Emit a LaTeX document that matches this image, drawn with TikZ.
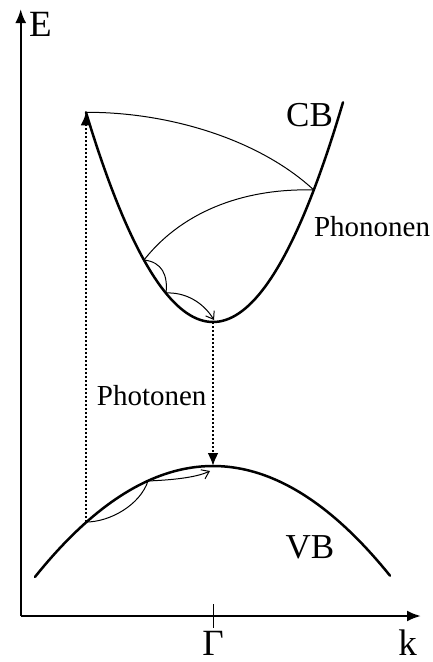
\documentclass[tikz,border=0pt]{standalone}
\usepackage{fontspec}
\setmainfont{Liberation Serif}
\usetikzlibrary{arrows.meta}
\begin{document}
\begin{tikzpicture}[x=1pt,y=-1pt,
  axis/.style={line width=2.4pt,-{Latex[length=14pt,width=11pt]}},
  band/.style={line width=2.5pt,line cap=round},
  phonon/.style={line width=1pt},
  phononarrow/.style={line width=1pt,-{Straight Barb[length=7pt,width=10pt]}},
  photon/.style={line width=2.2pt,dash pattern=on 2pt off 2pt,-{Latex[length=13pt,width=11pt]}},
  lbig/.style={font=\fontsize{37}{37}\selectfont,inner sep=0pt,text depth=0pt},
  lband/.style={font=\fontsize{35}{35}\selectfont,inner sep=0pt},
  lsmall/.style={font=\fontsize{29}{29}\selectfont,inner sep=0pt}]
\useasboundingbox (0,0) rectangle (433,662);
% axes
\coordinate (O) at (20.7,616);
\coordinate (Etop) at (20.7,9);
\coordinate (kend) at (421,616);
\draw[axis] (O) -- (Etop);
\draw[axis] (O) -- (kend);
\coordinate (G1) at (213,604);
\coordinate (G2) at (213,628);
\draw[line width=1pt] (G1) -- (G2);
\node[lbig,anchor=base west] (lE) at (29,36) {E};
\node[lbig,anchor=base] (lG) at (213,655) {Γ};
\node[lbig,anchor=base] (lk) at (407.5,655) {k};
% bands
\draw[band] plot[domain=-127:130,samples=80] ({213+\x},{322-(0.11402*\x)^2});
\draw[band] plot[domain=-178:177,samples=80] ({213+\x},{466+(0.05916*\x)^2});
\node[lband,anchor=base] (lCB) at (309.5,126.7) {CB};
\node[lband,anchor=base] (lVB) at (310,558) {VB};
\node[lsmall,anchor=base] (lPhon) at (372,236.7) {Phononen};
\node[lsmall,anchor=base] (lPhot) at (151.7,405) {Photonen};
% points
\coordinate (P1) at (86,112.3);
\coordinate (P2) at (313.8,190);
\coordinate (P3) at (144,260);
\coordinate (P4) at (166,293);
\coordinate (P5) at (214,320);
\coordinate (Cmin) at (213,322);
\coordinate (Vmax) at (213,466);
\coordinate (Q1) at (86,522);
\coordinate (Q2) at (148,481);
\coordinate (Q3) at (210,471);
% phonon arcs
\draw[phonon] (P1) .. controls (170,112) and (260,140) .. (P2);
\draw[phonon] (P2) .. controls (250,188) and (185,208) .. (P3);
\draw[phonon] (P3) .. controls (162,262) and (168,275) .. (P4);
\draw[phononarrow] (P4) .. controls (185,292) and (203,302) .. (P5);
\draw[phonon] (Q1) .. controls (110,522) and (140,505) .. (Q2);
\draw[phononarrow] (Q2) .. controls (170,480) and (195,478) .. (Q3);
% photon transitions
\draw[photon] (Q1) -- (P1);
\draw[photon] (Cmin) -- (Vmax);
\end{tikzpicture}
\end{document}
